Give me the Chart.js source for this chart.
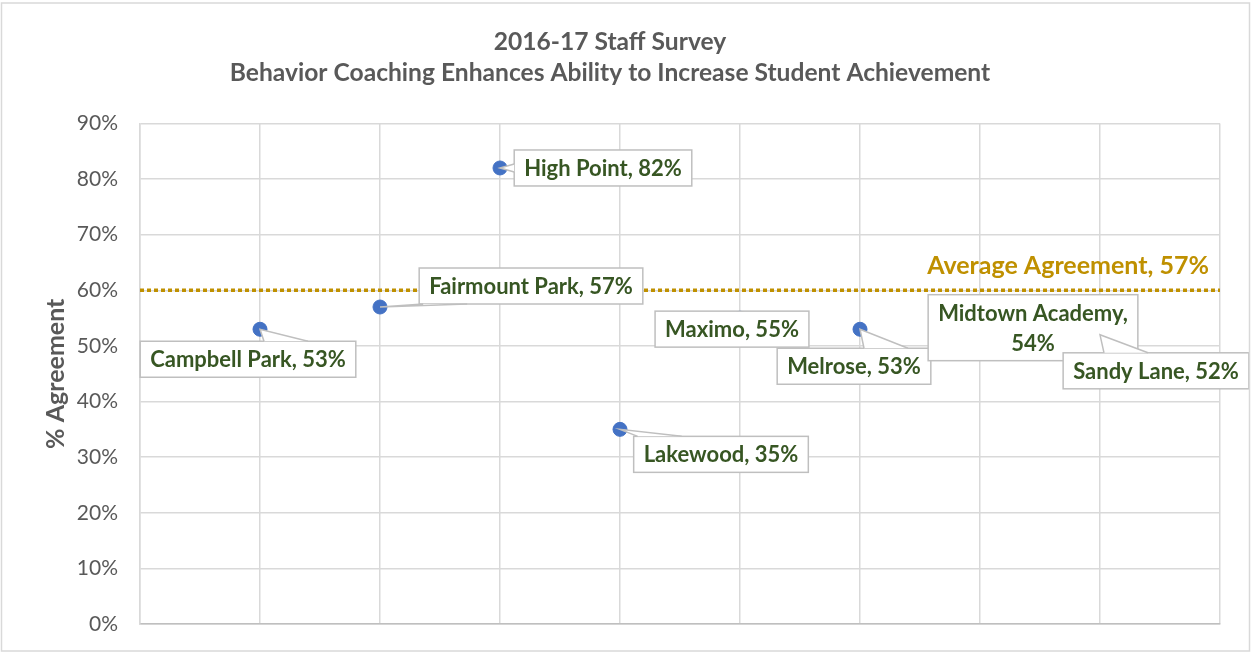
<!DOCTYPE html>
<html>
<head>
<meta charset="utf-8">
<script src="https://cdn.jsdelivr.net/npm/chart.js@4.4.1/dist/chart.umd.min.js"></script>
<style>
  html, body { margin: 0; padding: 0; background: #fff; }
  #wrap { width: 1252px; height: 654px; }
</style>
</head>
<body>
<div id="wrap"><canvas id="chart" width="1252" height="654"></canvas></div>
<script>
// ---- data ----
const SCHOOLS   = ["Campbell Park", "Fairmount Park", "High Point", "Lakewood",
                   "Maximo", "Melrose", "Midtown Academy", "Sandy Lane"];
const SCHOOL_X  = [1, 2, 3, 4, 5, 6, 7, 8];
const AGREEMENT = [53, 57, 82, 35, 55, 53, 54, 52];
const AVG_LINE_Y   = 60;
const AVG_LABEL    = 57;
const AVG_LINE_X   = [0, 9];
const TITLE_LINES  = ["2016-17 Staff Survey",
                      "Behavior Coaching Enhances Ability to Increase Student Achievement"];

// ---- style ----
const COLORS = {
  point:   "#4472C4",
  label:   "#375623",
  avg:     "#BF9000",
  text:    "#595959",
  grid:    "#D9D9D9",
  axis:    "#BFBFBF",
  box:     "#BFBFBF",
};
const FONT = "Lato, 'Open Sans', sans-serif";

// label box centre offsets from the point (px), and whether to wrap
const LABEL_STYLE = [
  { dx: -12, dy: 30 },
  { dx: 151, dy: -21 },
  { dx: 103, dy: 0 },
  { dx: 101, dy: 25 },
  { dx: -8,  dy: 11 },
  { dx: -6,  dy: 37 },
  { dx: 53,  dy: 4, wrap: true },
  { dx: 56,  dy: 36 },
];

const labelPlugin = {
  id: "calloutLabels",
  afterDatasetsDraw(chart) {
    const { ctx, scales: { x, y } } = chart;
    ctx.save();
    ctx.font = "bold 22px " + FONT;
    ctx.textAlign = "center";
    ctx.textBaseline = "middle";

    SCHOOLS.forEach((name, i) => {
      const st = LABEL_STYLE[i];
      const px = x.getPixelForValue(SCHOOL_X[i]);
      const py = y.getPixelForValue(AGREEMENT[i]);
      const lines = st.wrap ? [name + ",", AGREEMENT[i] + "%"] : [name + ", " + AGREEMENT[i] + "%"];
      const lh = 30;
      const tw = Math.max(...lines.map((l) => ctx.measureText(l).width));
      const w = tw + 20, h = lines.length * lh + 6;
      const cx = px + st.dx, cy = py + st.dy;
      const L = cx - w / 2, R = cx + w / 2, T = cy - h / 2, B = cy + h / 2;

      // box
      ctx.fillStyle = "#fff";
      ctx.strokeStyle = COLORS.box;
      ctx.lineWidth = 1.5;
      ctx.fillRect(L, T, w, h);
      ctx.strokeRect(L, T, w, h);

      // wedge pointer to the point (only when the point is outside the box)
      const inside = px > L && px < R && py > T && py < B;
      if (!inside) {
        let a, b;
        if (py < T || py > B) {
          const ey = py < T ? T : B;
          const x0 = Math.min(Math.max(px + 4, L + 4), R - 48);
          a = [x0, ey]; b = [x0 + 44, ey];
        } else {
          const ex = px < L ? L : R;
          const y0 = Math.min(Math.max(py - 4, T + 4), B - 12);
          a = [ex, y0]; b = [ex, y0 + 8];
        }
        ctx.beginPath();
        ctx.moveTo(a[0], a[1]);
        ctx.lineTo(px, py);
        ctx.lineTo(b[0], b[1]);
        ctx.closePath();
        ctx.fill();
        ctx.beginPath();
        ctx.moveTo(a[0], a[1]);
        ctx.lineTo(px, py);
        ctx.lineTo(b[0], b[1]);
        ctx.stroke();
      }

      ctx.fillStyle = COLORS.label;
      lines.forEach((l, k) => {
        ctx.fillText(l, cx, T + 3 + lh / 2 + k * lh + 1);
      });
    });

    // average label
    ctx.font = "bold 25px " + FONT;
    ctx.fillStyle = COLORS.avg;
    ctx.textAlign = "right";
    ctx.fillText("Average Agreement, " + AVG_LABEL + "%", x.right - 11, y.getPixelForValue(AVG_LINE_Y) - 24);
    ctx.restore();
  },
};

const borderPlugin = {
  id: "frame",
  afterDraw(chart) {
    const { ctx } = chart;
    ctx.save();
    ctx.strokeStyle = COLORS.grid;
    ctx.lineWidth = 1.5;
    ctx.strokeRect(1.5, 3, 1248, 648);
    ctx.restore();
  },
};

new Chart(document.getElementById("chart"), {
  type: "scatter",
  data: {
    datasets: [
      {
        label: "Schools",
        data: SCHOOL_X.map((v, i) => ({ x: v, y: AGREEMENT[i] })),
        backgroundColor: COLORS.point,
        borderColor: COLORS.point,
        pointRadius: 7,
        order: 1,
      },
      {
        label: "Average",
        type: "line",
        data: AVG_LINE_X.map((v) => ({ x: v, y: AVG_LINE_Y })),
        borderColor: COLORS.avg,
        borderWidth: 3.5,
        borderDash: [4, 3],
        pointRadius: 0,
        fill: false,
        order: 0,
      },
    ],
  },
  options: {
    responsive: false,
    animation: false,
    layout: { padding: { top: 0, left: 0, right: 32, bottom: 30 } },
    plugins: {
      legend: { display: false },
      tooltip: { enabled: false },
      title: {
        display: true,
        text: TITLE_LINES,
        color: COLORS.text,
        font: { family: FONT, size: 24.6, weight: "bold", lineHeight: 1.27 },
        padding: { top: 26, bottom: 35 },
      },
    },
    scales: {
      x: {
        type: "linear",
        min: 0,
        max: 9,
        ticks: { display: false, stepSize: 1 },
        grid: { color: COLORS.grid, lineWidth: 1.5, drawTicks: false },
        border: { color: COLORS.axis, width: 1.5 },
        afterFit: (s) => { s.height = 0; },
      },
      y: {
        min: 0,
        max: 90,
        ticks: {
          stepSize: 10,
          color: COLORS.text,
          padding: 22,
          font: { family: FONT, size: 21 },
          callback: (v) => v + "%",
        },
        grid: { color: COLORS.grid, lineWidth: 1.5, drawTicks: false },
        border: { color: COLORS.grid, width: 1.5 },
        title: {
          display: true,
          text: "% Agreement",
          color: COLORS.text,
          font: { family: FONT, size: 25, weight: "bold" },
          padding: { top: 41 },
        },
        afterFit: (s) => {
          s.width = 140;
          s.paddingTop = 0;
          s.paddingBottom = 0;
        },
      },
    },
  },
  plugins: [labelPlugin, borderPlugin],
});
</script>
</body>
</html>
